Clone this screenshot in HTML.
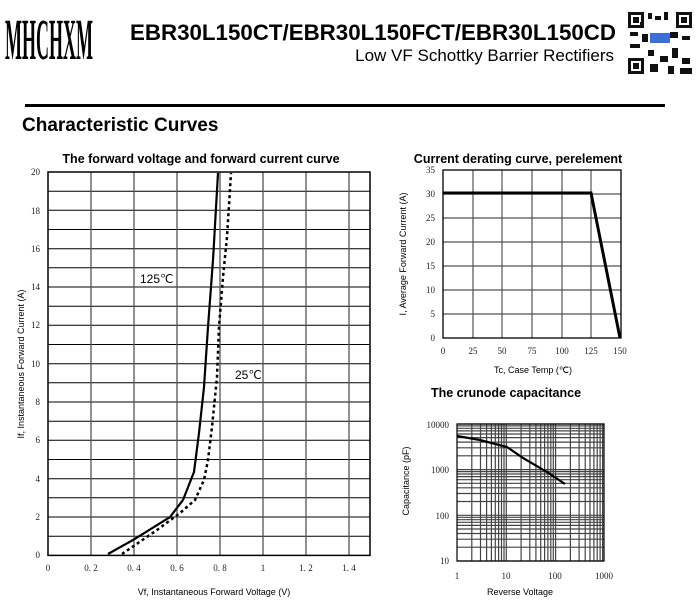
<!DOCTYPE html>
<html><head><meta charset="utf-8"><style>
body{margin:0;background:#fff;}
svg{display:block;font-family:"Liberation Sans",sans-serif;}
.t{font-family:"Liberation Serif",serif;font-size:9px;fill:#222;}
</style></head><body>
<svg width="699" height="607" viewBox="0 0 699 607" xmlns="http://www.w3.org/2000/svg">
<g transform="translate(5,59) scale(1,2)"><text x="0" y="0" font-family="Liberation Serif,serif" font-weight="bold" font-size="29" textLength="88" lengthAdjust="spacingAndGlyphs">MHCHXM</text></g>
<text x="130" y="40" font-weight="bold" font-size="22" textLength="486" lengthAdjust="spacingAndGlyphs">EBR30L150CT/EBR30L150FCT/EBR30L150CD</text>
<text x="614" y="61" font-size="17" text-anchor="end">Low VF Schottky Barrier Rectifiers</text>
<g fill="#111">
<rect x="627" y="11" width="66" height="64" fill="#fff"/>
<rect x="628" y="12" width="16" height="16"/><rect x="631" y="15" width="10" height="10" fill="#fff"/><rect x="633" y="17" width="6" height="6"/>
<rect x="676" y="12" width="16" height="16"/><rect x="679" y="15" width="10" height="10" fill="#fff"/><rect x="681" y="17" width="6" height="6"/>
<rect x="628" y="58" width="16" height="16"/><rect x="631" y="61" width="10" height="10" fill="#fff"/><rect x="633" y="63" width="6" height="6"/>
<rect x="648" y="13" width="4" height="6"/><rect x="655" y="16" width="6" height="4"/><rect x="664" y="12" width="4" height="8"/><rect x="630" y="32" width="8" height="4"/><rect x="642" y="34" width="6" height="8"/><rect x="670" y="32" width="8" height="6"/><rect x="682" y="36" width="8" height="4"/><rect x="630" y="44" width="10" height="4"/><rect x="648" y="50" width="6" height="6"/><rect x="660" y="56" width="8" height="6"/><rect x="672" y="48" width="6" height="10"/><rect x="682" y="58" width="8" height="6"/><rect x="650" y="64" width="8" height="8"/><rect x="668" y="66" width="6" height="8"/><rect x="680" y="68" width="12" height="6"/><rect x="640" y="22" width="4" height="4"/>
<rect x="650" y="33" width="20" height="10" fill="#3a6fd8"/>
</g>
<rect x="25" y="104" width="640" height="3" fill="#000"/>
<text x="22" y="131" font-weight="bold" font-size="19">Characteristic Curves</text>

<text x="201" y="163" font-weight="bold" font-size="12.5" text-anchor="middle">The forward voltage and forward current curve</text>
<g stroke="#000" stroke-width="1">
<line x1="48" y1="191.2" x2="370" y2="191.2"/><line x1="48" y1="210.3" x2="370" y2="210.3"/><line x1="48" y1="229.5" x2="370" y2="229.5"/><line x1="48" y1="248.7" x2="370" y2="248.7"/><line x1="48" y1="267.8" x2="370" y2="267.8"/><line x1="48" y1="287" x2="370" y2="287"/><line x1="48" y1="306.2" x2="370" y2="306.2"/><line x1="48" y1="325.3" x2="370" y2="325.3"/><line x1="48" y1="344.5" x2="370" y2="344.5"/><line x1="48" y1="363.7" x2="370" y2="363.7"/><line x1="48" y1="382.8" x2="370" y2="382.8"/><line x1="48" y1="402" x2="370" y2="402"/><line x1="48" y1="421.2" x2="370" y2="421.2"/><line x1="48" y1="440.3" x2="370" y2="440.3"/><line x1="48" y1="459.5" x2="370" y2="459.5"/><line x1="48" y1="478.7" x2="370" y2="478.7"/><line x1="48" y1="497.8" x2="370" y2="497.8"/><line x1="48" y1="517" x2="370" y2="517"/><line x1="48" y1="536.2" x2="370" y2="536.2"/>
</g>
<g stroke="#555" stroke-width="1.3">
<line x1="91" y1="172" x2="91" y2="555"/><line x1="134" y1="172" x2="134" y2="555"/><line x1="177" y1="172" x2="177" y2="555"/><line x1="220" y1="172" x2="220" y2="555"/><line x1="263" y1="172" x2="263" y2="555"/><line x1="306" y1="172" x2="306" y2="555"/><line x1="349" y1="172" x2="349" y2="555"/>
</g>
<rect x="48" y="172" width="322" height="383.4" fill="none" stroke="#000" stroke-width="1.5"/>
<g class="t" text-anchor="end">
<text x="40" y="175">20</text><text x="40" y="214">18</text><text x="40" y="252">16</text><text x="40" y="290">14</text><text x="40" y="328">12</text><text x="40" y="367">10</text><text x="40" y="405">8</text><text x="40" y="443">6</text><text x="40" y="482">4</text><text x="40" y="520">2</text><text x="40" y="558">0</text>
</g>
<g class="t" text-anchor="middle">
<text x="48" y="571">0</text><text x="91" y="571">0. 2</text><text x="134" y="571">0. 4</text><text x="177" y="571">0. 6</text><text x="220" y="571">0. 8</text><text x="263" y="571">1</text><text x="306" y="571">1. 2</text><text x="349" y="571">1. 4</text>
</g>
<text x="214" y="595" font-size="9" text-anchor="middle">Vf, Instantaneous Forward Voltage (V)</text>
<text transform="translate(24,364) rotate(-90)" font-size="9" text-anchor="middle">If, Instantaneous Forward Current (A)</text>
<text x="140" y="283" font-size="12">125℃</text>
<text x="235" y="379" font-size="12">25℃</text>
<polyline fill="none" stroke="#000" stroke-width="2.2" points="108,554 133,540 170,517 183,500 194,472 199,433 204,387 208,327 213,260 218,173"/>
<polyline fill="none" stroke="#000" stroke-width="2.5" stroke-dasharray="3,3" points="122,554 157,530 180,513 195,500 204,480 208,460 212,427 217,377 219,327 223,277 227,237 231,173"/>

<text x="518" y="163" font-weight="bold" font-size="12.5" text-anchor="middle">Current derating curve, perelement</text>
<g stroke="#555" stroke-width="1.2">
<line x1="443" y1="194" x2="621" y2="194"/><line x1="443" y1="218" x2="621" y2="218"/><line x1="443" y1="242" x2="621" y2="242"/><line x1="443" y1="266" x2="621" y2="266"/><line x1="443" y1="290" x2="621" y2="290"/><line x1="443" y1="314" x2="621" y2="314"/>
<line x1="473" y1="170" x2="473" y2="338"/><line x1="502" y1="170" x2="502" y2="338"/><line x1="532" y1="170" x2="532" y2="338"/><line x1="562" y1="170" x2="562" y2="338"/><line x1="591" y1="170" x2="591" y2="338"/>
</g>
<rect x="443" y="170" width="178" height="168" fill="none" stroke="#000" stroke-width="1.3"/>
<polyline fill="none" stroke="#000" stroke-width="3" points="443,193 591,193 620,338"/>
<g class="t" text-anchor="end">
<text x="435" y="173">35</text><text x="435" y="197">30</text><text x="435" y="221">25</text><text x="435" y="245">20</text><text x="435" y="269">15</text><text x="435" y="293">10</text><text x="435" y="317">5</text><text x="435" y="341">0</text>
</g>
<g class="t" text-anchor="middle">
<text x="443" y="354">0</text><text x="473" y="354">25</text><text x="502" y="354">50</text><text x="532" y="354">75</text><text x="562" y="354">100</text><text x="591" y="354">125</text><text x="620" y="354">150</text>
</g>
<text x="533" y="373" font-size="9" text-anchor="middle">Tc, Case Temp (℃)</text>
<text transform="translate(406,254) rotate(-90)" font-size="9" text-anchor="middle">I, Average Forward Current (A)</text>

<text x="506" y="397" font-weight="bold" font-size="12.5" text-anchor="middle">The crunode capacitance</text>
<g stroke="#444" stroke-width="1.2">
<line x1="457" y1="561" x2="604" y2="561"/><line x1="457" y1="547.2" x2="604" y2="547.2"/><line x1="457" y1="539.2" x2="604" y2="539.2"/><line x1="457" y1="533.5" x2="604" y2="533.5"/><line x1="457" y1="529" x2="604" y2="529"/><line x1="457" y1="525.4" x2="604" y2="525.4"/><line x1="457" y1="522.3" x2="604" y2="522.3"/><line x1="457" y1="519.7" x2="604" y2="519.7"/><line x1="457" y1="517.3" x2="604" y2="517.3"/><line x1="457" y1="515.3" x2="604" y2="515.3"/>
<line x1="457" y1="501.5" x2="604" y2="501.5"/><line x1="457" y1="493.5" x2="604" y2="493.5"/><line x1="457" y1="487.8" x2="604" y2="487.8"/><line x1="457" y1="483.3" x2="604" y2="483.3"/><line x1="457" y1="479.7" x2="604" y2="479.7"/><line x1="457" y1="476.6" x2="604" y2="476.6"/><line x1="457" y1="474" x2="604" y2="474"/><line x1="457" y1="471.6" x2="604" y2="471.6"/><line x1="457" y1="469.6" x2="604" y2="469.6"/>
<line x1="457" y1="455.8" x2="604" y2="455.8"/><line x1="457" y1="447.8" x2="604" y2="447.8"/><line x1="457" y1="442.1" x2="604" y2="442.1"/><line x1="457" y1="437.6" x2="604" y2="437.6"/><line x1="457" y1="434" x2="604" y2="434"/><line x1="457" y1="430.9" x2="604" y2="430.9"/><line x1="457" y1="428.3" x2="604" y2="428.3"/><line x1="457" y1="425.9" x2="604" y2="425.9"/><line x1="457" y1="424" x2="604" y2="424"/>
<line x1="471.8" y1="424" x2="471.8" y2="561"/><line x1="480.5" y1="424" x2="480.5" y2="561"/><line x1="486.6" y1="424" x2="486.6" y2="561"/><line x1="491.4" y1="424" x2="491.4" y2="561"/><line x1="495.3" y1="424" x2="495.3" y2="561"/><line x1="498.6" y1="424" x2="498.6" y2="561"/><line x1="501.5" y1="424" x2="501.5" y2="561"/><line x1="504" y1="424" x2="504" y2="561"/><line x1="506.3" y1="424" x2="506.3" y2="561"/>
<line x1="521.1" y1="424" x2="521.1" y2="561"/><line x1="529.8" y1="424" x2="529.8" y2="561"/><line x1="535.9" y1="424" x2="535.9" y2="561"/><line x1="540.7" y1="424" x2="540.7" y2="561"/><line x1="544.6" y1="424" x2="544.6" y2="561"/><line x1="547.9" y1="424" x2="547.9" y2="561"/><line x1="550.8" y1="424" x2="550.8" y2="561"/><line x1="553.3" y1="424" x2="553.3" y2="561"/><line x1="555.6" y1="424" x2="555.6" y2="561"/>
<line x1="570.4" y1="424" x2="570.4" y2="561"/><line x1="579.1" y1="424" x2="579.1" y2="561"/><line x1="585.2" y1="424" x2="585.2" y2="561"/><line x1="590" y1="424" x2="590" y2="561"/><line x1="593.9" y1="424" x2="593.9" y2="561"/><line x1="597.2" y1="424" x2="597.2" y2="561"/><line x1="600.1" y1="424" x2="600.1" y2="561"/><line x1="602.6" y1="424" x2="602.6" y2="561"/>
</g>
<rect x="457" y="424" width="147" height="137" fill="none" stroke="#000" stroke-width="1.2"/>
<polyline fill="none" stroke="#000" stroke-width="2.2" points="457,436 480,440 507,447 523,458 547,472 565,484"/>
<g class="t" text-anchor="end">
<text x="449" y="428">10000</text><text x="449" y="473">1000</text><text x="449" y="519">100</text><text x="449" y="564">10</text>
</g>
<g class="t" text-anchor="middle">
<text x="457" y="579">1</text><text x="506" y="579">10</text><text x="555" y="579">100</text><text x="604" y="579">1000</text>
</g>
<text x="520" y="595" font-size="9" text-anchor="middle">Reverse Voltage</text>
<text transform="translate(409,481) rotate(-90)" font-size="9" text-anchor="middle">Capacitance (pF)</text>
</svg>
</body></html>
